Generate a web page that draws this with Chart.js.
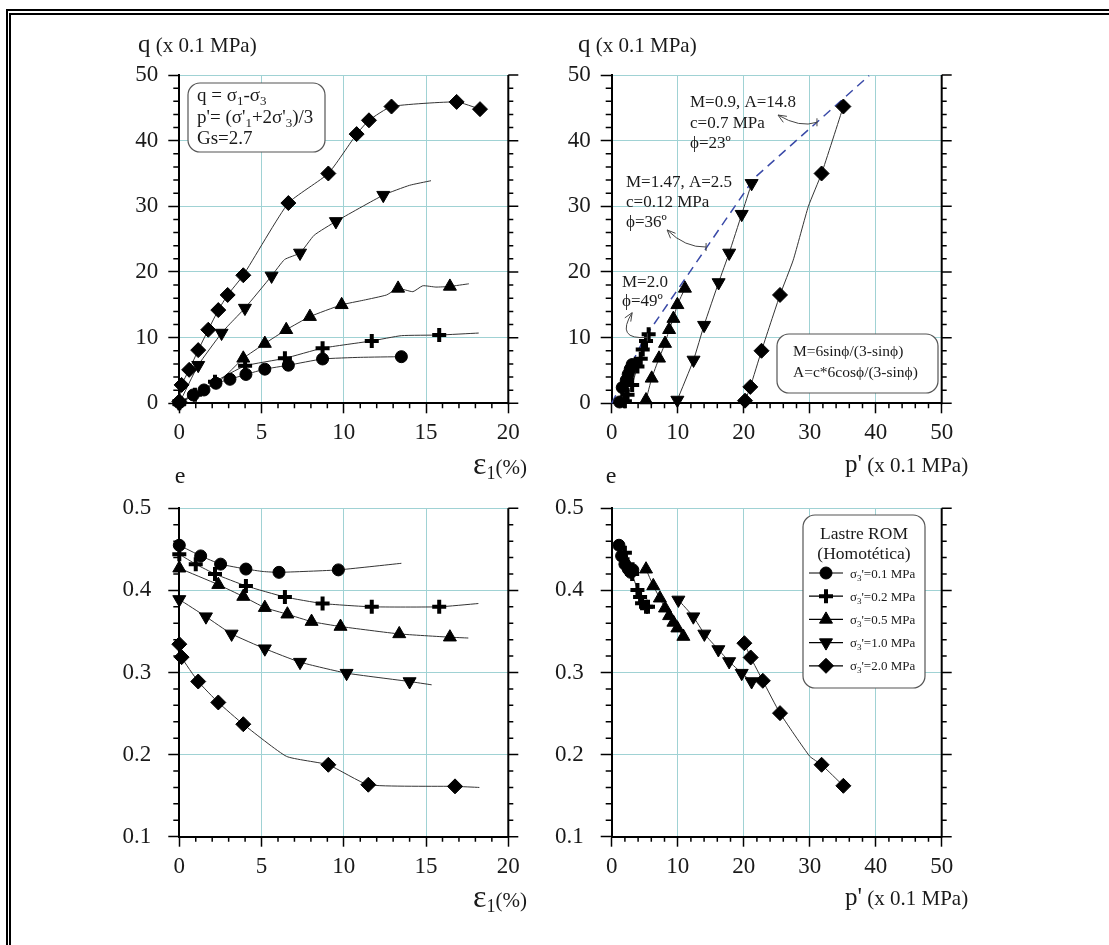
<!DOCTYPE html>
<html>
<head>
<meta charset="utf-8">
<script src="https://cdn.jsdelivr.net/npm/chart.js@4/dist/chart.umd.min.js"></script>
<style>
  body { margin: 0; background: #fff; width: 1109px; height: 945px; position: relative; overflow: hidden; }
  .frame1 { position: absolute; left: 6px; top: 9px; right: -10px; bottom: -10px; border-top: 2px solid #000; border-left: 2px solid #000; }
  .frame2 { position: absolute; left: 9px; top: 13px; right: -10px; bottom: -10px; border-top: 2px solid #000; border-left: 2px solid #000; }
  canvas { position: absolute; }
</style>
</head>
<body>
<div class="frame1"></div>
<div class="frame2"></div>
<canvas id="qEps"></canvas>
<canvas id="qP"></canvas>
<canvas id="eEps"></canvas>
<canvas id="eP"></canvas>
<script>
// confining pressure of each test, MPa
const SIGMA3 = ['0.1', '0.2', '0.5', '1.0', '2.0'];

// q (x0.1 MPa) vs axial strain e1 (%) - one row per test
const qEpsX = [
  [0, 0.85, 1.5, 2.23, 3.08, 4.05, 5.2, 6.63, 8.71, 13.5],
  [0, 0.95, 2.17, 4.0, 6.42, 8.71, 11.7, 15.8],
  [0, 3.89, 5.2, 6.5, 7.94, 9.87, 13.3, 16.45],
  [0, 1.15, 2.57, 3.99, 5.61, 7.34, 9.52, 12.4],
  [0, 0.14, 0.6, 1.15, 1.76, 2.37, 2.94, 3.89, 6.63, 9.06, 10.78, 11.53, 12.9, 16.86, 18.28]
];
const qEpsY = [
  [0.1, 1.27, 2.03, 3.05, 3.66, 4.4, 5.2, 5.8, 6.75, 7.1],
  [0, 1.3, 3.3, 5.7, 6.85, 8.4, 9.5, 10.4],
  [0.2, 6.85, 9.1, 11.2, 13.2, 15.0, 17.5, 17.8],
  [0, 5.8, 10.7, 14.5, 19.4, 22.9, 27.7, 31.7],
  [0.3, 2.8, 5.1, 8.1, 11.2, 14.2, 16.5, 19.5, 30.5, 35.0, 41.0, 43.1, 45.2, 45.9, 44.8]
];
// extra points of the recorded curves (between / after the symbols)
const qEpsCurveX = [[11.0], [13.5, 18.2], [2.5, 11.2, 12.6, 14.2, 14.8, 15.6, 17.6], [3.0, 6.4, 8.2, 14.0, 15.3], []];
const qEpsCurveY = [[7.0], [10.3, 10.7], [3.5, 15.7, 16.5, 17.0, 17.9, 17.7, 18.2], [11.9, 21.9, 25.6, 33.2, 33.9], []];

// q vs p' (x0.1 MPa)
const qPX = [
  [1.2, 1.6, 2.2, 2.5, 2.8, 3.1],
  [2.0, 2.4, 3.1, 3.9, 4.4, 4.7, 5.2, 5.6],
  [5.2, 6.06, 7.17, 8.08, 8.7, 9.35, 9.95, 11.1],
  [9.95, 12.4, 14.0, 16.2, 17.8, 19.7, 21.2],
  [20.2, 21.0, 22.7, 25.5, 31.8, 35.1]
];
const qPY = [
  [0.2, 2.4, 3.5, 4.4, 5.2, 5.9],
  [0.3, 1.3, 2.8, 5.6, 6.8, 8.2, 9.5, 10.5],
  [0.5, 3.8, 6.85, 9.1, 11.2, 12.9, 15.0, 17.5],
  [0.5, 6.6, 11.9, 18.4, 22.9, 28.8, 33.5],
  [0.4, 2.5, 8.0, 16.5, 35.0, 45.2]
];
const qPCurveX = [[], [], [5.05], [9.9], [19.9, 27.5, 29.8]];
const qPCurveY = [[], [], [0], [0], [0, 21.8, 30.0]];

// failure envelope (dashed): M=2.0, then M=1.47 A=2.5, then M=0.9 A=14.8
const envP = [0, 5, 21.6, 39];
const envQ = [0, 10, 34.3, 49.9];

// void ratio e vs e1 (%)
const eEpsX = [
  [0, 1.3, 2.51, 4.05, 6.06, 9.67],
  [0, 1.0, 2.17, 4.05, 6.42, 8.71, 11.7, 15.8],
  [0, 2.37, 3.89, 5.2, 6.57, 8.04, 9.8, 13.37, 16.45],
  [0, 1.62, 3.18, 5.2, 7.34, 10.17, 14.0],
  [0, 0.14, 1.15, 2.37, 3.89, 9.06, 11.49, 16.76]
];
const eEpsY = [
  [0.455, 0.442, 0.432, 0.426, 0.422, 0.425],
  [0.444, 0.432, 0.420, 0.4055, 0.392, 0.384, 0.380, 0.380],
  [0.427, 0.407, 0.3925, 0.379, 0.371, 0.362, 0.356, 0.347, 0.343],
  [0.389, 0.368, 0.347, 0.329, 0.3126, 0.2992, 0.289],
  [0.3345, 0.3187, 0.289, 0.2635, 0.237, 0.1876, 0.1633, 0.1613]
];
const eEpsCurveX = [[5.1, 13.5], [18.18], [17.57], [15.34], [6.52, 18.24]];
const eEpsCurveY = [[0.423, 0.433], [0.384], [0.342], [0.285], [0.1978, 0.160]];

// void ratio e vs p' (x0.1 MPa)
const ePX = [
  [1.1, 1.5, 2.0, 2.5, 2.9, 3.2],
  [2.0, 2.4, 3.1, 3.9, 4.3, 4.6, 5.2, 5.5],
  [5.2, 6.3, 7.3, 8.08, 8.7, 9.35, 9.95, 10.86],
  [10.1, 12.37, 14.04, 16.16, 17.8, 19.7, 21.2],
  [20.1, 21.06, 22.9, 25.5, 31.8, 35.1]
];
const ePY = [
  [0.455, 0.442, 0.432, 0.426, 0.422, 0.425],
  [0.446, 0.432, 0.420, 0.4006, 0.392, 0.3844, 0.380, 0.380],
  [0.4258, 0.4055, 0.3905, 0.3783, 0.369, 0.361, 0.354, 0.3438],
  [0.3884, 0.368, 0.347, 0.328, 0.3134, 0.2992, 0.289],
  [0.3357, 0.3183, 0.2899, 0.2505, 0.1876, 0.162]
];
const ePCurveX = [[], [], [], [], [30.0]];
const ePCurveY = [[], [], [], [], [0.198]];

const GRID = 'rgb(160,210,212)';
const INK = '#1a1a1a';
const SERIF = "'Liberation Serif', 'Times New Roman', serif";

// symbol used for each test
const MARKS = [
  { pointStyle: 'circle', radius: 6, rotation: 0, borderWidth: 1 },
  { pointStyle: 'cross', radius: 7, rotation: 0, borderWidth: 4 },
  { pointStyle: 'triangle', radius: 7.5, rotation: 0, borderWidth: 1 },
  { pointStyle: 'triangle', radius: 7.5, rotation: 180, borderWidth: 1 },
  { pointStyle: 'rectRot', radius: 7.5, rotation: 0, borderWidth: 1 }
];

function pts(xs, ys) {
  return xs.map((x, i) => ({ x: x, y: ys[i] }));
}

// a thin curve plus the symbols on top for each test
function testSets(mx, my, cx, cy) {
  const sets = [];
  mx.forEach((xs, i) => {
    const curve = pts(xs.concat(cx[i]), my[i].concat(cy[i])).sort((a, b) => a.x - b.x);
    sets.push({
      data: curve, showLine: true, borderColor: '#333', borderWidth: 1,
      pointRadius: 0, pointHoverRadius: 0, tension: 0.15, order: 2, clip: false
    });
    const m = MARKS[i];
    sets.push({
      data: pts(xs, my[i]), showLine: false,
      pointStyle: m.pointStyle, pointRadius: m.radius, pointHoverRadius: m.radius,
      pointRotation: m.rotation, pointBorderWidth: m.borderWidth,
      pointBackgroundColor: '#000', pointBorderColor: '#000', order: 1, clip: false
    });
  });
  return sets;
}

// text in pieces: [text, size, dy] so subscripts can be written
function rich(ctx, x, y, parts, align) {
  let w = 0;
  parts.forEach(p => { ctx.font = p[1] + 'px ' + SERIF; w += ctx.measureText(p[0]).width; });
  let cx = align === 'center' ? x - w / 2 : x;
  parts.forEach(p => {
    ctx.font = p[1] + 'px ' + SERIF;
    ctx.fillText(p[0], cx, y + (p[2] || 0));
    cx += ctx.measureText(p[0]).width;
  });
}

function roundBox(ctx, x1, y1, x2, y2, r) {
  ctx.beginPath();
  ctx.moveTo(x1 + r, y1);
  ctx.arcTo(x2, y1, x2, y2, r);
  ctx.arcTo(x2, y2, x1, y2, r);
  ctx.arcTo(x1, y2, x1, y1, r);
  ctx.arcTo(x1, y1, x2, y1, r);
  ctx.closePath();
  ctx.fillStyle = '#fff';
  ctx.fill();
  ctx.strokeStyle = '#555';
  ctx.lineWidth = 1.2;
  ctx.stroke();
}

function isMajor(v, step) {
  const r = v / step;
  return Math.abs(r - Math.round(r)) < 1e-6;
}

// right-hand axis, minor ticks, labels, boxes, arrows and legend
const decor = {
  id: 'decor',
  afterDraw(chart, args, o) {
    const ctx = chart.ctx, a = chart.chartArea;
    const sx = chart.scales.x, sy = chart.scales.y;
    const ox = o.off[0], oy = o.off[1];
    ctx.save();

    // right axis
    ctx.strokeStyle = '#000';
    ctx.lineWidth = 2;
    ctx.beginPath();
    ctx.moveTo(a.right, a.top);
    ctx.lineTo(a.right, a.bottom + 1);
    ctx.stroke();

    ctx.lineWidth = 1.5;
    ctx.beginPath();
    let n = Math.round((sy.max - sy.min) / o.minorY);
    for (let k = 0; k <= n; k++) {
      const v = sy.min + k * o.minorY;
      const y = sy.getPixelForValue(v);
      const major = isMajor(v, o.majorY);
      if (!major) { ctx.moveTo(a.left - 6, y); ctx.lineTo(a.left, y); }
      ctx.moveTo(a.right, y); ctx.lineTo(a.right + (major ? 10 : 5), y);
    }
    n = Math.round((sx.max - sx.min) / o.minorX);
    for (let k = 0; k <= n; k++) {
      const v = sx.min + k * o.minorX;
      if (isMajor(v, o.majorX)) continue;
      const x = sx.getPixelForValue(v);
      ctx.moveTo(x, a.bottom); ctx.lineTo(x, a.bottom + 5);
    }
    ctx.stroke();

    // boxes
    (o.boxes || []).forEach(b => roundBox(ctx, b[0] - ox, b[1] - oy, b[2] - ox, b[3] - oy, 12));

    // arrows pointing from the notes to the envelope
    (o.arrows || []).forEach(ar => {
      const p0 = [sx.getPixelForValue(ar.from[0]), sy.getPixelForValue(ar.from[1])];
      const pc = [sx.getPixelForValue(ar.ctrl[0]), sy.getPixelForValue(ar.ctrl[1])];
      const p1 = [sx.getPixelForValue(ar.to[0]), sy.getPixelForValue(ar.to[1])];
      ctx.strokeStyle = '#444';
      ctx.lineWidth = 1;
      ctx.beginPath();
      ctx.moveTo(p0[0], p0[1] - 4); ctx.lineTo(p0[0], p0[1] + 4);
      ctx.moveTo(p0[0], p0[1]);
      ctx.quadraticCurveTo(pc[0], pc[1], p1[0], p1[1]);
      const ang = Math.atan2(p1[1] - pc[1], p1[0] - pc[0]);
      const h = 9;
      ctx.moveTo(p1[0] - h * Math.cos(ang - 0.4), p1[1] - h * Math.sin(ang - 0.4));
      ctx.lineTo(p1[0], p1[1]);
      ctx.lineTo(p1[0] - h * Math.cos(ang + 0.4), p1[1] - h * Math.sin(ang + 0.4));
      ctx.stroke();
    });

    // texts
    ctx.textBaseline = 'alphabetic';
    (o.texts || []).forEach(t => {
      ctx.fillStyle = t.color || INK;
      rich(ctx, t.x - ox, t.y - oy, t.parts, t.align);
    });

    // legend
    if (o.legend) {
      const L = o.legend;
      roundBox(ctx, L.box[0] - ox, L.box[1] - oy, L.box[2] - ox, L.box[3] - oy, 12);
      ctx.fillStyle = INK;
      const cx = (L.box[0] + L.box[2]) / 2 - ox;
      rich(ctx, cx, L.box[1] + 24 - oy, [['Lastre ROM', 17.5]], 'center');
      rich(ctx, cx, L.box[1] + 44 - oy, [['(Homotética)', 17.5]], 'center');
      SIGMA3.forEach((s, i) => {
        const y = L.box[1] + 58 + i * 23.2 - oy;
        const x0 = L.box[0] + 6 - ox;
        ctx.strokeStyle = '#000';
        ctx.lineWidth = 1.2;
        ctx.beginPath();
        ctx.moveTo(x0, y); ctx.lineTo(x0 + 34, y);
        ctx.stroke();
        ctx.fillStyle = '#000';
        ctx.lineWidth = MARKS[i].borderWidth;
        Chart.helpers.drawPoint(ctx, MARKS[i], x0 + 17, y);
        ctx.fillStyle = INK;
        rich(ctx, x0 + 41, y + 4.5, [['σ', 13], ['3', 9, 3], ["'=" + s + ' MPa', 13]]);
      });
    }
    ctx.restore();
  }
};

function makeChart(id, box, area, sc, datasets, deco) {
  const cv = document.getElementById(id);
  cv.width = box[2];
  cv.height = box[3];
  cv.style.left = box[0] + 'px';
  cv.style.top = box[1] + 'px';
  cv.style.width = box[2] + 'px';
  cv.style.height = box[3] + 'px';
  const xH = 40;
  deco.off = [box[0], box[1]];
  deco.majorX = sc.x[2];
  deco.majorY = sc.y[2];
  return new Chart(cv, {
    type: 'scatter',
    data: { datasets: datasets },
    options: {
      responsive: false,
      animation: false,
      events: [],
      layout: {
        padding: {
          left: 0,
          top: area[1] - box[1],
          right: box[0] + box[2] - area[2],
          bottom: box[1] + box[3] - area[3] - xH
        }
      },
      plugins: { legend: { display: false }, tooltip: { enabled: false }, decor: deco },
      scales: {
        x: {
          type: 'linear', min: sc.x[0], max: sc.x[1],
          ticks: { stepSize: sc.x[2], padding: 6, color: INK, font: { family: SERIF, size: 23 }, maxRotation: 0, autoSkip: false },
          grid: { color: GRID, lineWidth: 1, tickLength: 10, tickColor: '#000', tickWidth: 1.5 },
          border: { color: '#000', width: 2 },
          afterFit(s) { s.height = xH; s.paddingLeft = 0; s.paddingRight = 0; }
        },
        y: {
          type: 'linear', min: sc.y[0], max: sc.y[1],
          ticks: { stepSize: sc.y[2], padding: sc.yPad, color: INK, font: { family: SERIF, size: 23 }, callback: sc.fmt },
          grid: { color: GRID, lineWidth: 1, tickLength: 11, tickColor: '#000', tickWidth: 1.5 },
          border: { color: '#000', width: 2 },
          afterFit(s) { s.width = area[0] - box[0]; s.paddingTop = 0; s.paddingBottom = 0; }
        }
      }
    },
    plugins: [decor]
  });
}

const plain = v => String(v);
const oneDec = v => v.toFixed(1);
const epsTitle = [['ε', 32], ['1', 18, 5], ['(%)', 21]];
const pTitle = [["p'", 25], [' (x 0.1 MPa)', 21]];
const qTitle = [['q', 25], [' (x 0.1 MPa)', 21]];
const note = s => [[s, 17]];

// q - e1
makeChart('qEps', [100, 20, 450, 470], [179.3, 75, 508.3, 403.3],
  { x: [0, 20, 5], y: [0, 50, 10], fmt: plain, yPad: 10 },
  testSets(qEpsX, qEpsY, qEpsCurveX, qEpsCurveY),
  {
    minorX: 1, minorY: 2,
    boxes: [[188, 83, 325, 152]],
    texts: [
      { x: 138, y: 52, parts: qTitle },
      { x: 473, y: 474, parts: epsTitle },
      { x: 197, y: 101, parts: [['q = σ', 19], ['1', 13, 4], ['-σ', 19], ['3', 13, 4]] },
      { x: 197, y: 123, parts: [["p'= (σ'", 19], ['1', 13, 4], ["+2σ'", 19], ['3', 13, 4], [')/3', 19]] },
      { x: 197, y: 144, parts: [['Gs=2.7', 19]] }
    ]
  });

// q - p'
const qPSets = testSets(qPX, qPY, qPCurveX, qPCurveY);
qPSets.push({
  data: pts(envP, envQ), showLine: true, borderColor: '#3a4aa8', borderWidth: 1.5,
  borderDash: [9, 6], pointRadius: 0, pointHoverRadius: 0, order: 3, clip: false
});
makeChart('qP', [530, 20, 460, 470], [611.7, 75, 941.7, 403.3],
  { x: [0, 50, 10], y: [0, 50, 10], fmt: plain, yPad: 10 },
  qPSets,
  {
    minorX: 2, minorY: 2,
    boxes: [[777, 334, 938, 393]],
    arrows: [
      { from: [31.1, 42.8], ctrl: [28.5, 41.9], to: [25.2, 43.9] },
      { from: [14.3, 23.8], ctrl: [11.1, 23.7], to: [8.4, 26.4] },
      { from: [5.4, 10.05], ctrl: [0.5, 9.6], to: [3.1, 13.8] }
    ],
    texts: [
      { x: 578, y: 52, parts: qTitle },
      { x: 845, y: 472, parts: pTitle },
      { x: 690, y: 107, parts: note('M=0.9, A=14.8') },
      { x: 690, y: 128, parts: note('c=0.7 MPa') },
      { x: 690, y: 148, parts: note('ϕ=23º') },
      { x: 626, y: 187, parts: note('M=1.47, A=2.5') },
      { x: 626, y: 207, parts: note('c=0.12 MPa') },
      { x: 626, y: 227, parts: note('ϕ=36º') },
      { x: 622, y: 287, parts: note('M=2.0') },
      { x: 622, y: 306, parts: note('ϕ=49º') },
      { x: 793, y: 356, parts: [['M=6sinϕ/(3-sinϕ)', 15.5]] },
      { x: 793, y: 377, parts: [['A=c*6cosϕ/(3-sinϕ)', 15.5]] }
    ]
  });

// e - e1
makeChart('eEps', [100, 465, 450, 470], [179.3, 508.3, 508.3, 836.7],
  { x: [0, 20, 5], y: [0.1, 0.5, 0.1], fmt: oneDec, yPad: 17 },
  testSets(eEpsX, eEpsY, eEpsCurveX, eEpsCurveY),
  {
    minorX: 1, minorY: 0.02,
    texts: [
      { x: 180, y: 483, parts: [['e', 24]], align: 'center' },
      { x: 473, y: 907, parts: epsTitle }
    ]
  });

// e - p'
makeChart('eP', [530, 465, 460, 470], [611.7, 508.3, 941.7, 836.7],
  { x: [0, 50, 10], y: [0.1, 0.5, 0.1], fmt: oneDec, yPad: 17 },
  testSets(ePX, ePY, ePCurveX, ePCurveY),
  {
    minorX: 2, minorY: 0.02,
    legend: { box: [803, 515, 925, 688] },
    texts: [
      { x: 611, y: 483, parts: [['e', 24]], align: 'center' },
      { x: 845, y: 905, parts: pTitle }
    ]
  });
</script>
</body>
</html>
